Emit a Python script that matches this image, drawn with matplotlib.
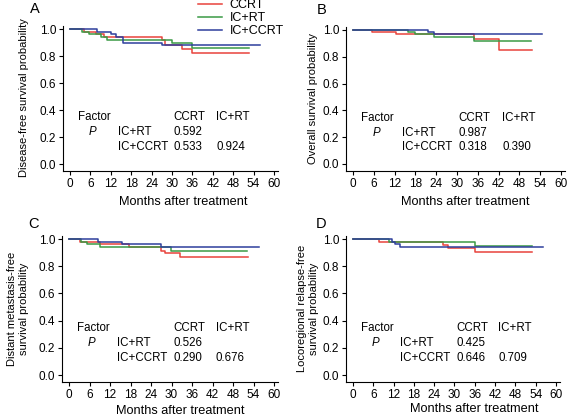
import matplotlib
matplotlib.use("Agg")
import matplotlib.pyplot as plt
from matplotlib.lines import Line2D

plt.rcParams["font.family"] = ["Liberation Sans", "DejaVu Sans"]

# Data (months, survival probability)
# A: disease-free survival
A_ccrt_t = [0, 4, 7.5, 10, 27, 28, 32.8, 35.8, 52.5]
A_ccrt_s = [1.0, 0.98, 0.96, 0.94, 0.92, 0.88, 0.85, 0.82, 0.82]
A_icrt_t = [0, 3.5, 5.5, 9, 11, 30, 36, 52.5]
A_icrt_s = [1.0, 0.98, 0.96, 0.94, 0.92, 0.90, 0.86, 0.86]
A_icccrt_t = [0, 8, 12, 13.5, 15.5, 27, 56]
A_icccrt_s = [1.0, 0.98, 0.96, 0.94, 0.90, 0.88, 0.88]

# B: overall survival
B_ccrt_t = [0, 5.5, 12.5, 35, 42.2, 51.6]
B_ccrt_s = [1.0, 0.985, 0.97, 0.935, 0.85, 0.85]
B_icrt_t = [0, 16, 18, 23.5, 35, 51.3]
B_icrt_s = [1.0, 0.985, 0.97, 0.945, 0.918, 0.918]
B_icccrt_t = [0, 21.5, 23.5, 54.5]
B_icccrt_s = [1.0, 0.985, 0.97, 0.97]

# C: distant metastasis-free survival
C_ccrt_t = [0, 3.2, 9, 17.5, 27, 28, 32.5, 52.5]
C_ccrt_s = [1.0, 0.98, 0.96, 0.94, 0.915, 0.895, 0.87, 0.87]
C_icrt_t = [0, 3.5, 5.2, 9, 29.9, 52]
C_icrt_s = [1.0, 0.98, 0.96, 0.94, 0.915, 0.915]
C_icccrt_t = [0, 8.4, 15.6, 26.8, 55.6]
C_icccrt_s = [1.0, 0.98, 0.96, 0.94, 0.94]

# D: locoregional relapse-free survival
D_ccrt_t = [0, 7.7, 26.7, 28, 36, 53]
D_ccrt_s = [1.0, 0.98, 0.956, 0.932, 0.902, 0.902]
D_icrt_t = [0, 10.5, 36.2, 52.8]
D_icrt_s = [1.0, 0.978, 0.945, 0.945]
D_icccrt_t = [0, 11.4, 12.5, 14, 56.2]
D_icccrt_s = [1.0, 0.98, 0.96, 0.938, 0.938]

ylabels = ["Disease-free survival probability",
           "Overall survival probability",
           "Distant metastasis-free\nsurvival probability",
           "Locoregional relapse-free\nsurvival probability"]
letters = ["A", "B", "C", "D"]
p_rt = ["0.592", "0.987", "0.526", "0.425"]
p_ccrt = ["0.533", "0.318", "0.290", "0.646"]
p_ccrt_icrt = ["0.924", "0.390", "0.676", "0.709"]

curves = [
    [(A_ccrt_t, A_ccrt_s), (A_icrt_t, A_icrt_s), (A_icccrt_t, A_icccrt_s)],
    [(B_ccrt_t, B_ccrt_s), (B_icrt_t, B_icrt_s), (B_icccrt_t, B_icccrt_s)],
    [(C_ccrt_t, C_ccrt_s), (C_icrt_t, C_icrt_s), (C_icccrt_t, C_icccrt_s)],
    [(D_ccrt_t, D_ccrt_s), (D_icrt_t, D_icrt_s), (D_icccrt_t, D_icccrt_s)],
]
groups = ["CCRT", "IC+RT", "IC+CCRT"]
colors = ["#e8433c", "#3a9a45", "#2e3f9c"]

W, H = 567, 417
XMIN, XMAX = -2, 61.2
YMIN, YMAX = -0.052, 1.03

# pixel positions of (x=0, x=60, y=0, y=1) for each panel
pix = [(70, 274, 164, 29), (353, 561, 164, 30),
       (69, 274, 375, 239), (353, 556, 375, 239)]
ylabelpad = [8, 3, 7, 3]
xlabel_pos = [(0.557, -0.215), (0.543, -0.215), (0.547, -0.195), (0.60, -0.18)]
letter_pos = [(30, 2), (317, 3), (28, 217), (316, 217)]


def rect(x0, x60, y0, y1):
    ppm = (x60 - x0) / 60
    ppv = y0 - y1
    left = x0 + XMIN * ppm
    right = x0 + XMAX * ppm
    bottom = y0 - YMIN * ppv
    top = y0 - YMAX * ppv
    return [left / W, 1 - bottom / H, (right - left) / W, (bottom - top) / H]


fig = plt.figure(figsize=(W / 100, H / 100), dpi=100)

for i in range(4):
    ax = fig.add_axes(rect(*pix[i]))
    for k in range(3):
        t, s = curves[i][k]
        ax.step(t, s, where="post", color=colors[k], lw=1.1)
    ax.set_xlim(XMIN, XMAX)
    ax.set_ylim(YMIN, YMAX)
    ax.set_xticks(range(0, 61, 6))
    ax.set_yticks([0.0, 0.2, 0.4, 0.6, 0.8, 1.0])
    ax.set_yticklabels(["0.0", "0.2", "0.4", "0.6", "0.8", "1.0"])
    ax.spines["top"].set_visible(False)
    ax.spines["right"].set_visible(False)
    ax.spines["left"].set_bounds(YMIN, 1.02)
    ax.tick_params(labelsize=8.5, length=3, width=0.8, pad=2)
    ax.set_xlabel("Months after treatment", fontsize=9.2)
    ax.xaxis.label.set_va("center")
    ax.xaxis.set_label_coords(*xlabel_pos[i])
    ax.set_ylabel(ylabels[i], fontsize=8, labelpad=ylabelpad[i])
    fig.text(letter_pos[i][0] / W, 1 - letter_pos[i][1] / H, letters[i],
             fontsize=10.5, ha="left", va="top")

    fs = 8.3
    ax.text(2.3, 0.345, "Factor", fontsize=fs, va="center")
    ax.text(30.5, 0.345, "CCRT", fontsize=fs, va="center")
    ax.text(43, 0.345, "IC+RT", fontsize=fs, va="center")
    ax.text(5.6, 0.235, "P", fontsize=fs, va="center", style="italic")
    ax.text(14, 0.235, "IC+RT", fontsize=fs, va="center")
    ax.text(30.5, 0.235, p_rt[i], fontsize=fs, va="center")
    ax.text(14, 0.127, "IC+CCRT", fontsize=fs, va="center")
    ax.text(30.5, 0.127, p_ccrt[i], fontsize=fs, va="center")
    ax.text(43, 0.127, p_ccrt_icrt[i], fontsize=fs, va="center")

handles = [Line2D([], [], color=c, lw=1.1) for c in colors]
fig.legend(handles, groups, loc="upper left", bbox_to_anchor=(198 / W, 1 + 1 / H),
           frameon=False, fontsize=9, handlelength=1.9, handletextpad=0.65,
           labelspacing=0.1, borderaxespad=0, borderpad=0)

fig.savefig("out.png", dpi=100)
